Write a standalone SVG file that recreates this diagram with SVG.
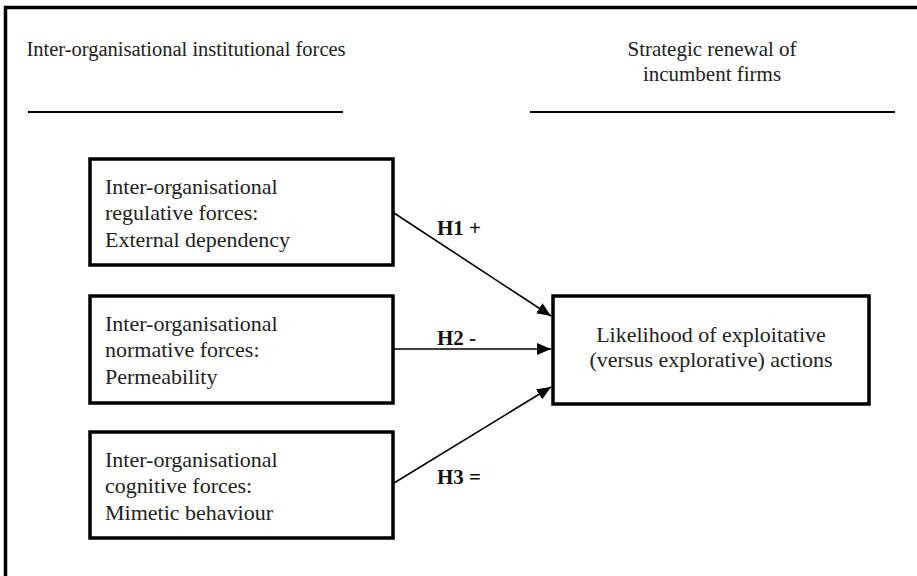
<svg xmlns="http://www.w3.org/2000/svg" width="917" height="576" viewBox="0 0 917 576">
<style>
.t{font-family:"Liberation Serif","Times New Roman",serif;font-size:22px;fill:#222}
.hd{font-family:"Liberation Serif","Times New Roman",serif;font-size:21px;fill:#222}
.h{font-family:"Liberation Serif","Times New Roman",serif;font-size:21px;font-weight:bold;fill:#111}
.box{fill:#fff;stroke:#000;stroke-width:3.5}
.c{stroke:#000;stroke-width:1.6;fill:none}
</style>
<defs>
<marker id="ah" viewBox="0 0 14 12" refX="14" refY="6" markerWidth="14" markerHeight="12" markerUnits="userSpaceOnUse" orient="auto">
<path d="M0,0 L14,6 L0,12 z" fill="#000"/>
</marker>
</defs>
<rect x="5.5" y="7.5" width="1000" height="1000" fill="#fff" stroke="#000" stroke-width="3.5"/>
<g id="header-left">
<text class="hd" x="186" y="56" text-anchor="middle" style="font-size:20.5px">Inter-organisational institutional forces</text>
<line x1="28" y1="112" x2="343" y2="112" stroke="#000" stroke-width="2"/>
</g>
<g id="header-right">
<text class="hd" x="712" y="56" text-anchor="middle">Strategic renewal of</text>
<text class="hd" x="712" y="81" text-anchor="middle">incumbent firms</text>
<line x1="530" y1="112" x2="895" y2="112" stroke="#000" stroke-width="2"/>
</g>
<g id="n1">
<rect class="box" x="90" y="159" width="303" height="106"/>
<text class="t" x="105" y="194">Inter-organisational</text>
<text class="t" x="105" y="220">regulative forces:</text>
<text class="t" x="105" y="247">External dependency</text>
</g>
<g id="n2">
<rect class="box" x="90" y="296" width="303" height="107"/>
<text class="t" x="105" y="331">Inter-organisational</text>
<text class="t" x="105" y="357">normative forces:</text>
<text class="t" x="105" y="384">Permeability</text>
</g>
<g id="n3">
<rect class="box" x="90" y="432" width="303" height="106"/>
<text class="t" x="105" y="467">Inter-organisational</text>
<text class="t" x="105" y="493">cognitive forces:</text>
<text class="t" x="105" y="520">Mimetic behaviour</text>
</g>
<g id="n4">
<rect class="box" x="553" y="296" width="316" height="108"/>
<text class="t" x="711" y="342" text-anchor="middle">Likelihood of exploitative</text>
<text class="t" x="711" y="367" text-anchor="middle">(versus explorative) actions</text>
</g>
<g id="connectors">
<line class="c" x1="394" y1="213" x2="551" y2="316" marker-end="url(#ah)"/>
<line class="c" x1="394" y1="349" x2="551" y2="349" marker-end="url(#ah)"/>
<line class="c" x1="394" y1="483" x2="551" y2="387" marker-end="url(#ah)"/>
<text class="h" x="437" y="235">H1 +</text>
<text class="h" x="437" y="345">H2 -</text>
<text class="h" x="437" y="484">H3 =</text>
</g>
</svg>
